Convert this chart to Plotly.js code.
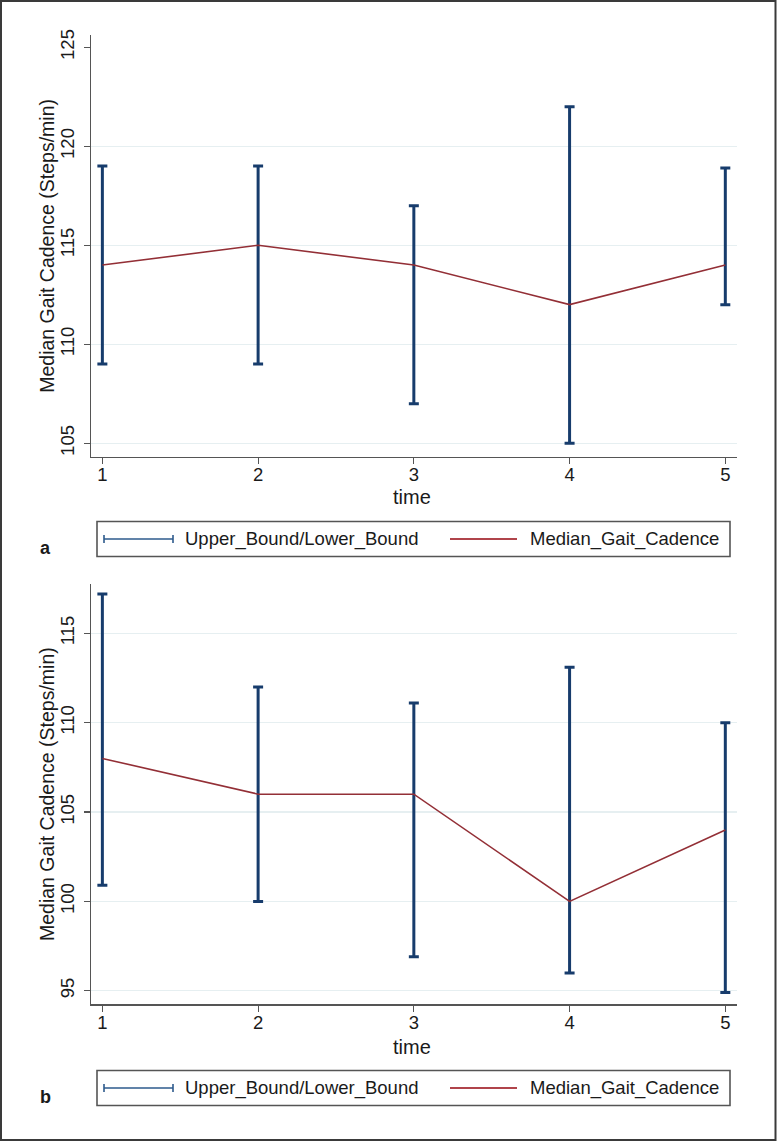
<!DOCTYPE html>
<html>
<head>
<meta charset="utf-8">
<script src="https://cdn.plot.ly/plotly-3.0.1.min.js"></script>
<style>
  html, body { margin: 0; padding: 0; background: #fff; }
  #chart { width: 778px; height: 1141px; }
</style>
</head>
<body>
<div id="chart"></div>
<script>
// ---- data ----
const time = [1, 2, 3, 4, 5];

const medianA = [114, 115, 114, 112, 114];
const upperA  = [119, 119, 117, 122, 118.9];
const lowerA  = [109, 109, 107, 105, 112];

const medianB = [108, 106, 106, 100, 104];
const upperB  = [117.2, 112, 111.1, 113.1, 110];
const lowerB  = [100.9, 100, 96.9, 96, 94.9];

const yTicksA = [105, 110, 115, 120, 125];
const yGridA  = [105, 110, 115, 120];
const yTicksB = [95, 100, 105, 110, 115];
const yGridB  = [95, 100, 105, 110, 115];

const xTitle = 'time';
const yTitle = 'Median Gait Cadence (Steps/min)';
const legendBounds = 'Upper_Bound/Lower_Bound';
const legendMedian = 'Median_Gait_Cadence';
const panelLabels = ['a', 'b'];

// ---- style ----
const W = 778, H = 1141;
const FONT = '"Liberation Sans", Arial, Helvetica, sans-serif';
const TXT = '#1a1a1a';
const AX = '#555555';
const GRID = '#e6eff1';
const NAVY = '#173c6c';
const MAROON = '#932f36';
const px = x => x / W;
const py = y => 1 - y / H;

function diff(a, b) { return a.map((v, i) => v - b[i]); }

function boundsTrace(median, upper, lower, xa, ya) {
  return {
    type: 'scatter', mode: 'markers', x: time, y: median,
    xaxis: xa, yaxis: ya, showlegend: false, hoverinfo: 'skip',
    marker: { size: 2, opacity: 0, color: NAVY },
    error_y: {
      type: 'data', symmetric: false,
      array: diff(upper, median), arrayminus: diff(median, lower),
      color: NAVY, thickness: 3, width: 5
    }
  };
}
function medianTrace(median, xa, ya) {
  return {
    type: 'scatter', mode: 'lines', x: time, y: median,
    xaxis: xa, yaxis: ya, showlegend: false, hoverinfo: 'skip',
    line: { color: MAROON, width: 1.6 }
  };
}

const data = [
  { type: 'scatter', mode: 'markers', x: [time[0]], y: [medianA[0]], xaxis: 'x', yaxis: 'y3',
    marker: { opacity: 0 }, showlegend: false, hoverinfo: 'skip' },
  { type: 'scatter', mode: 'markers', x: [time[0]], y: [medianB[0]], xaxis: 'x2', yaxis: 'y4',
    marker: { opacity: 0 }, showlegend: false, hoverinfo: 'skip' },
  boundsTrace(medianA, upperA, lowerA, 'x', 'y'),
  medianTrace(medianA, 'x', 'y'),
  boundsTrace(medianB, upperB, lowerB, 'x2', 'y2'),
  medianTrace(medianB, 'x2', 'y2')
];

const domA = [py(456.5), py(35)];
const domB = [py(1004), py(584)];
const xDom = [px(91), px(737)];
const xRange = [0.927, 5.075];
const rangeA = [104.33, 125.62];
const rangeB = [94.26, 117.76];

function xAxis(anchor) {
  return {
    domain: xDom, range: xRange, anchor: anchor,
    tickvals: time, ticktext: time.map(String),
    ticks: 'outside', ticklen: 6, tickwidth: 1.2, tickcolor: AX,
    showline: true, linecolor: AX, linewidth: 1.5,
    showgrid: false, zeroline: false, fixedrange: true,
    ticklabelstandoff: -5,
    tickfont: { family: FONT, size: 18.5, color: TXT }
  };
}
function yAxis(dom, range, ticks, anchor) {
  return {
    domain: dom, range: range, anchor: anchor,
    tickvals: ticks, ticktext: ticks.map(String), tickangle: -90,
    ticks: 'outside', ticklen: 6, tickwidth: 1.2, tickcolor: AX,
    showline: true, linecolor: AX, linewidth: 1.5,
    showgrid: false, zeroline: false, fixedrange: true,
    ticklabelstandoff: 2,
    tickfont: { family: FONT, size: 18.5, color: TXT }
  };
}
function gridAxis(overlay, range, vals, anchor) {
  return {
    overlaying: overlay, range: range, anchor: anchor,
    tickvals: vals, showticklabels: false, ticks: '',
    showgrid: true, gridcolor: GRID, gridwidth: 1.2,
    showline: false, zeroline: false, fixedrange: true
  };
}

const shapes = [];
const annotations = [];

function addPanelText(plotTop, plotBottom, timeY, legendTop, legendBottom, label) {
  const mid = (plotTop + plotBottom) / 2;
  annotations.push({
    xref: 'paper', yref: 'paper', x: px(47), y: py(mid), text: yTitle,
    textangle: -90, showarrow: false, xanchor: 'center', yanchor: 'middle',
    font: { family: FONT, size: 19.5, color: TXT }
  });
  annotations.push({
    xref: 'paper', yref: 'paper', x: px(412), y: py(timeY), text: xTitle,
    showarrow: false, xanchor: 'center', yanchor: 'middle',
    font: { family: FONT, size: 20, color: TXT }
  });
  // legend box
  shapes.push({
    type: 'rect', xref: 'paper', yref: 'paper',
    x0: px(97), x1: px(730), y0: py(legendBottom), y1: py(legendTop),
    line: { color: AX, width: 1.6 }, fillcolor: 'rgba(0,0,0,0)'
  });
  const ly = (legendTop + legendBottom) / 2;
  // range-cap symbol
  shapes.push({ type: 'line', xref: 'paper', yref: 'paper',
    x0: px(104), x1: px(173), y0: py(ly), y1: py(ly),
    line: { color: '#2d5a8c', width: 1.6 } });
  [104, 173].forEach(xx => shapes.push({ type: 'line', xref: 'paper', yref: 'paper',
    x0: px(xx), x1: px(xx), y0: py(ly - 4), y1: py(ly + 4),
    line: { color: '#2d5a8c', width: 1.6 } }));
  // median symbol
  shapes.push({ type: 'line', xref: 'paper', yref: 'paper',
    x0: px(450), x1: px(517), y0: py(ly), y1: py(ly),
    line: { color: '#b0444b', width: 1.8 } });
  annotations.push({
    xref: 'paper', yref: 'paper', x: px(183), y: py(ly), text: legendBounds,
    showarrow: false, xanchor: 'left', yanchor: 'middle',
    font: { family: FONT, size: 18.5, color: TXT }
  });
  annotations.push({
    xref: 'paper', yref: 'paper', x: px(528), y: py(ly), text: legendMedian,
    showarrow: false, xanchor: 'left', yanchor: 'middle',
    font: { family: FONT, size: 18.5, color: TXT }
  });
  annotations.push({
    xref: 'paper', yref: 'paper', x: px(45), y: py(ly + 9), text: '<b>' + label + '</b>',
    showarrow: false, xanchor: 'center', yanchor: 'middle',
    font: { family: FONT, size: 18, color: TXT }
  });
}

addPanelText(35, 456.5, 497, 521.5, 556.5, panelLabels[0]);
addPanelText(584, 1004, 1047, 1070.5, 1105.5, panelLabels[1]);

// outer frame
shapes.push({
  type: 'rect', xref: 'paper', yref: 'paper',
  x0: px(1), x1: px(775.5), y0: py(1140), y1: py(1),
  line: { color: '#3a3a3a', width: 2 }, fillcolor: 'rgba(0,0,0,0)'
});

const layout = {
  width: W, height: H,
  margin: { l: 0, r: 0, t: 0, b: 0, pad: 0 },
  paper_bgcolor: '#ffffff', plot_bgcolor: '#ffffff',
  showlegend: false,
  font: { family: FONT, color: TXT },
  xaxis: xAxis('y'),
  yaxis: yAxis(domA, rangeA, yTicksA, 'x'),
  xaxis2: xAxis('y2'),
  yaxis2: yAxis(domB, rangeB, yTicksB, 'x2'),
  yaxis3: gridAxis('y', rangeA, yGridA, 'x'),
  yaxis4: gridAxis('y2', rangeB, yGridB, 'x2'),
  shapes: shapes,
  annotations: annotations
};

Plotly.newPlot('chart', data, layout, { staticPlot: true, displayModeBar: false });
</script>
</body>
</html>
